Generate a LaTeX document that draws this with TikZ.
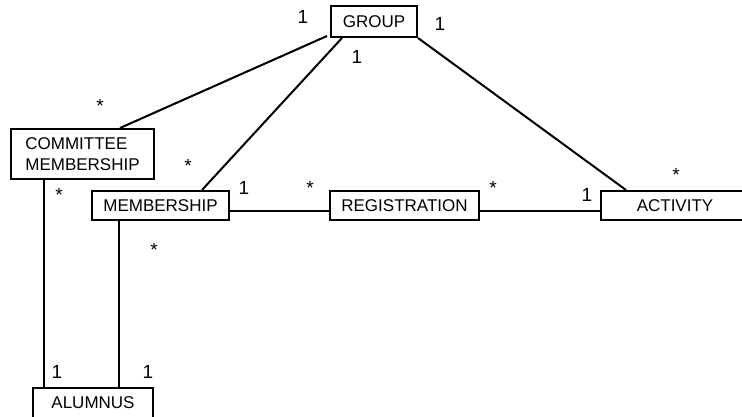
\documentclass[tikz,border=0pt]{standalone}
\usepackage{fontspec}
\setmainfont{Liberation Sans}
\usetikzlibrary{positioning}

\begin{document}
\begin{tikzpicture}[
        x=1pt, y=-1pt,
        line width=2pt,
        every node/.style={font=\fontsize{17}{21}\selectfont},
        class/.style={
            draw=black,
            fill=white,
            inner sep=0pt,
            minimum height=29pt,
            align=center
        },
        mult/.style={inner sep=0pt, anchor=base, font=\fontsize{19}{21}\selectfont}
    ]
        \useasboundingbox (0,0) rectangle (742,417);

        % Classes
        \node[class, minimum width=86pt, minimum height=31pt] (group) at (374,21.5) {GROUP};
        \node[class, minimum width=143pt, minimum height=50pt, align=left] (committee) at (82.5,154) {COMMITTEE\\MEMBERSHIP};
        \node[class, minimum width=137pt] (membership) at (160.5,205.5) {MEMBERSHIP};
        \node[class, minimum width=149pt] (registration) at (404.5,205.5) {REGISTRATION};
        \node[class, minimum width=148pt] (activity) at (675,205.5) {ACTIVITY};
        \node[class, minimum width=120pt, minimum height=30pt] (alumnus) at (93,403) {ALUMNUS};

        % Associations to GROUP
        \draw ([xshift=-3pt,yshift=2pt]group.south west) -- ([xshift=37.5pt]committee.north);
        \draw ([xshift=12pt]group.south west) -- ([xshift=41.5pt]membership.north);
        \draw (group.south east) -- ([xshift=26pt]activity.north west);

        % Associations to ALUMNUS
        \draw ([xshift=34pt]committee.south west) -- ([xshift=12pt]alumnus.north west);
        \draw ([xshift=28pt]membership.south west) -- ([xshift=87pt]alumnus.north west);

        % Registration chain
        \draw ([yshift=-5pt]membership.east) -- ([yshift=-5pt]registration.west);
        \draw ([yshift=-5pt]registration.east) -- ([yshift=-5pt]activity.west);

        % Multiplicities
        \node[mult] (mg1) at (303,24) {1};
        \node[mult] (mg2) at (440,31) {1};
        \node[mult] (mg3) at (357,64) {1};
        \node[mult] (mc1) at (100,113) {*};
        \node[mult] (mm1) at (188,173) {*};
        \node[mult] (mc2) at (59,201) {*};
        \node[mult] (mm2) at (244,195) {1};
        \node[mult] (mr1) at (310,195) {*};
        \node[mult] (mr2) at (493,195) {*};
        \node[mult] (ma1) at (587,201) {1};
        \node[mult] (ma2) at (676,182) {*};
        \node[mult] (mm3) at (154,256) {*};
        \node[mult] (mu1) at (57,378) {1};
        \node[mult] (mu2) at (148,378) {1};
    \end{tikzpicture}
\end{document}
